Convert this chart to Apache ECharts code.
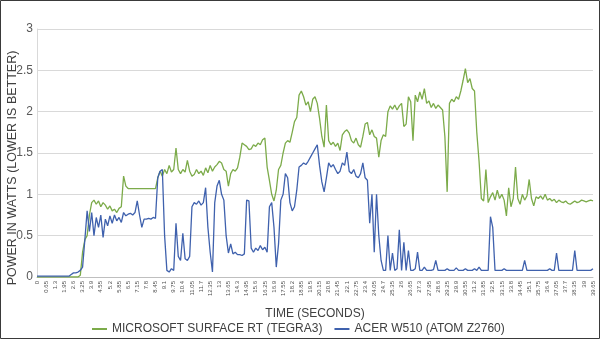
<!DOCTYPE html>
<html><head><meta charset="utf-8">
<script src="https://cdn.jsdelivr.net/npm/echarts@6/dist/echarts.min.js"></script>
<style>html,body{margin:0;padding:0;background:#fff}#c{width:600px;height:339px}</style>
</head><body><div id="c"></div>
<script>
const tickLabels = ['0','0.65','1.3','1.95','2.6','3.25','3.9','4.55','5.2','5.85','6.5','7.15','7.8','8.45','9.1','9.75','10.4','11.05','11.7','12.35','13','13.65','14.3','14.95','15.6','16.25','16.9','17.55','18.2','18.85','19.5','20.15','20.8','21.45','22.1','22.75','23.4','24.05','24.7','25.35','26','26.65','27.3','27.95','28.6','29.25','29.9','30.55','31.2','31.85','32.5','33.15','33.8','34.45','35.1','35.75','36.4','37.05','37.7','38.35','39','39.65'];
const samplesPerTick = 4;
const seriesNames = ['MICROSOFT SURFACE RT (TEGRA3)', 'ACER W510 (ATOM Z2760)'];
const surfaceRT = [
0,0,0,0,0,0,0,0,0,0,0,0,0,0,0,0,0,0,0,0.02,0.3,0.45,0.5,0.75,0.9,0.93,0.88,0.92,0.85,0.9,0.87,0.82,0.86,0.8,0.82,0.78,0.83,0.85,1.22,1.1,
1.07,1.07,1.07,1.07,1.07,1.07,1.07,1.07,1.07,1.07,1.07,1.07,1.07,1.2,1.28,1.22,1.3,1.25,1.35,1.27,
1.3,1.56,1.3,1.25,1.3,1.27,1.41,1.28,1.22,1.24,1.3,1.25,1.28,1.23,1.32,1.26,1.35,1.28,1.33,1.36,
1.4,1.38,1.3,1.28,1.1,1.25,1.3,1.28,1.32,1.45,1.62,1.6,1.58,1.54,1.55,1.6,1.58,1.62,1.6,1.66,
1.68,1.33,1.17,1.0,0.92,1.05,1.3,1.35,1.5,1.62,1.65,1.63,1.75,1.88,1.93,2.2,2.25,2.18,2.08,2.12,
2.0,2.15,2.18,2.1,1.92,1.7,1.57,2.08,1.65,1.6,1.63,1.58,1.62,1.53,1.72,1.76,1.78,1.74,1.65,1.62,
1.68,1.6,1.57,1.7,1.85,1.87,1.72,1.78,1.7,1.68,1.45,1.65,1.72,1.7,2.0,2.07,2.03,2.08,2.02,2.07,
2.1,1.82,1.85,2.18,2.12,1.65,2.2,2.12,2.24,2.15,2.28,2.1,2.13,2.05,2.1,2.04,2.08,2.05,2.02,1.7,
1.03,2.1,2.15,2.12,2.18,2.15,2.25,2.38,2.52,2.35,2.4,2.28,2.25,1.75,1.4,0.95,0.92,1.3,0.9,0.97,
1.02,0.93,1.05,0.95,1.0,0.93,0.74,1.08,0.85,0.95,1.33,0.95,0.88,1.0,0.93,0.98,1.18,0.95,0.86,0.97,
0.95,0.98,0.94,1.0,0.93,0.95,0.92,0.94,0.9,0.93,0.91,0.9,0.92,0.89,0.88,0.9,0.92,0.9,0.91,0.93,
0.92,0.91,0.92,0.93,0.92];
const acerW510 = [
0.01,0.01,0.01,0.01,0.01,0.01,0.01,0.01,0.01,0.01,0.01,0.01,0.01,0.01,0.01,0.03,0.05,0.05,0.06,0.08,0.12,0.45,0.8,0.55,0.78,0.5,0.72,0.6,0.75,0.48,0.7,0.62,0.74,0.65,0.75,0.68,0.72,0.66,0.78,0.74,
0.76,0.77,0.75,0.78,0.92,0.75,0.6,0.7,0.7,0.71,0.7,0.72,0.71,1.2,1.28,1.3,0.5,0.08,0.06,0.1,
0.08,0.65,0.25,0.2,0.53,0.22,0.2,0.25,0.85,0.9,0.88,0.92,0.87,0.9,1.08,0.6,0.3,0.06,0.9,1.1,
1.17,1.0,0.93,0.5,0.29,0.4,0.28,0.3,0.27,0.27,0.26,0.28,0.93,0.92,0.35,0.3,0.35,0.32,0.38,0.33,
0.36,0.3,0.85,0.9,0.6,0.12,0.4,0.93,1.0,1.25,1.2,0.9,0.8,0.85,1.05,1.33,1.35,1.38,1.36,1.4,
1.45,1.5,1.55,1.6,1.35,1.15,1.03,1.2,1.38,1.33,1.36,1.3,1.25,1.28,1.38,1.35,1.51,1.28,1.25,1.3,
1.22,1.2,1.25,1.38,1.2,1.17,0.65,1.0,0.3,1.0,0.5,0.2,0.08,0.08,0.5,0.08,0.29,0.08,0.1,0.57,
0.08,0.42,0.08,0.32,0.08,0.08,0.1,0.3,0.08,0.08,0.12,0.08,0.08,0.08,0.09,0.2,0.08,0.08,0.08,0.08,
0.1,0.08,0.08,0.08,0.11,0.08,0.08,0.08,0.1,0.08,0.08,0.08,0.1,0.08,0.12,0.08,0.08,0.08,0.08,0.73,
0.6,0.08,0.08,0.08,0.08,0.1,0.08,0.08,0.08,0.08,0.08,0.08,0.08,0.08,0.2,0.08,0.08,0.08,0.08,0.08,
0.08,0.08,0.08,0.08,0.08,0.1,0.08,0.08,0.29,0.08,0.08,0.08,0.08,0.08,0.08,0.08,0.32,0.08,0.08,0.08,
0.08,0.08,0.08,0.08,0.1];
const categories = surfaceRT.map((_, i) => String(i));
const font = '"Liberation Sans", Arial, sans-serif';

const chart = echarts.init(document.getElementById('c'), null, {renderer: 'canvas'});
chart.setOption({
  animation: false,
  backgroundColor: '#fff',
  textStyle: {fontFamily: font},
  grid: {left: 37, right: 7, top: 29, bottom: 62},
  legend: {
    data: seriesNames,
    left: 87, top: 318,
    icon: 'rect', itemWidth: 15, itemHeight: 2, itemGap: 12,
    textStyle: {fontSize: 12, color: '#404040', fontFamily: font}
  },
  xAxis: {
    type: 'category', data: categories, boundaryGap: false,
    name: 'TIME (SECONDS)', nameLocation: 'middle', nameGap: 31,
    nameTextStyle: {fontSize: 12, color: '#404040', fontFamily: font},
    axisLine: {lineStyle: {color: '#bfbfbf'}},
    axisTick: {show: false},
    axisLabel: {
      interval: samplesPerTick - 1, rotate: 90, fontSize: 6, color: '#505050', margin: 4,
      formatter: (v, idx) => tickLabels[Math.round(idx / samplesPerTick)]
    },
    splitLine: {show: false}
  },
  yAxis: {
    type: 'value', min: 0, max: 3, interval: 0.5,
    axisLine: {show: true, lineStyle: {color: '#d9d9d9'}},
    axisTick: {show: false},
    axisLabel: {fontSize: 12, color: '#595959', margin: 4, fontFamily: font},
    splitLine: {lineStyle: {color: '#d9d9d9'}}
  },
  graphic: [
    {type: 'rect', shape: {x: 0.5, y: 0.5, width: 599, height: 338}, style: {fill: 'none', stroke: '#3a3a3a', lineWidth: 1}, silent: true},
    {type: 'text', x: 6, y: 168, rotation: Math.PI / 2,
     style: {text: 'POWER IN WATTS (LOWER IS BETTER)', fontSize: 12.5, fill: '#404040', font: '12.5px "Liberation Sans", Arial, sans-serif', align: 'center', verticalAlign: 'top'}}
  ],
  series: [
    {name: seriesNames[0], type: 'line', data: surfaceRT, showSymbol: false, symbol: 'none',
     lineStyle: {color: '#7cab4a', width: 1.3}, itemStyle: {color: '#7cab4a'}},
    {name: seriesNames[1], type: 'line', data: acerW510, showSymbol: false, symbol: 'none',
     lineStyle: {color: '#3f61ad', width: 1.3}, itemStyle: {color: '#3f61ad'}}
  ]
});
</script></body></html>
